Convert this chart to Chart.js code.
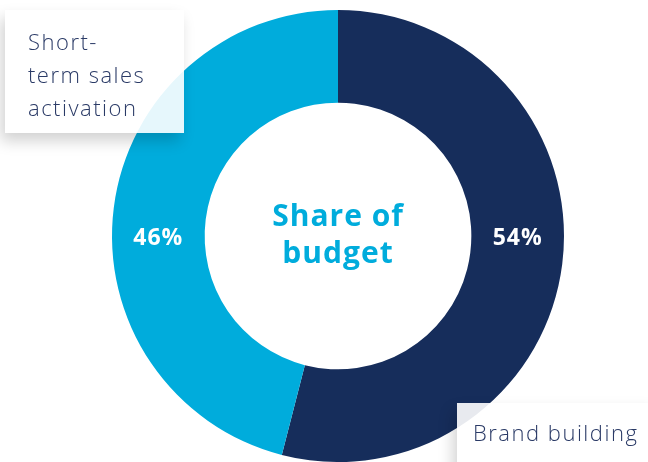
<!DOCTYPE html>
<html>
<head>
<meta charset="utf-8">
<script src="https://cdn.jsdelivr.net/npm/chart.js@4"></script>
<style>
  html, body { margin: 0; padding: 0; background: #fff; }
  #wrap { position: relative; width: 648px; height: 462px; overflow: hidden; }
  canvas { position: absolute; left: 0; top: 0; }
  .box {
    position: absolute;
    background: rgba(255,255,255,0.9);
    box-shadow: -4px 8px 14px rgba(0,0,0,0.18);
    color: #2a3a66;
    font-family: "Open Sans", "Noto Sans", sans-serif;
    font-weight: 300;
    font-size: 22px;
    letter-spacing: 1.5px;
    line-height: 33px;
    white-space: nowrap;
  }
  #b1 { left: 5px; top: 10px; width: 179px; height: 123px; padding-left: 23px; padding-top: 15px; box-sizing: border-box; }
  #b2 { left: 457px; top: 403px; width: 200px; height: 70px; padding-left: 16px; padding-top: 13px; box-sizing: border-box; }
</style>
</head>
<body>
<div id="wrap">
  <canvas id="c" width="648" height="462"></canvas>
  <div class="box" id="b1">Short-<br>term sales<br>activation</div>
  <div class="box" id="b2">Brand building</div>
</div>
<script>
var categories = ['Brand building', 'Short-term sales activation'];
var shares = [54, 46];
var colors = ['#162d5b', '#00acdc'];
var centerLines = ['Share of', 'budget'];

var labelPlugin = {
  id: 'labels',
  afterDatasetsDraw: function(chart) {
    var ctx = chart.ctx;
    var arcs = chart.getDatasetMeta(0).data;
    ctx.save();
    ctx.textAlign = 'center';
    ctx.textBaseline = 'middle';
    ctx.letterSpacing = '1px';
    arcs.forEach(function(arc, i) {
      var mid = (arc.innerRadius + arc.outerRadius) / 2;
      var a = (arc.startAngle + arc.endAngle) / 2;
      var dir = Math.cos(a) >= 0 ? 1 : -1;
      ctx.fillStyle = '#ffffff';
      ctx.font = 'bold 23px "Open Sans", "Noto Sans", sans-serif';
      ctx.fillText(shares[i] + '%', arc.x + dir * mid, arc.y + 2);
    });
    var c = arcs[0];
    ctx.fillStyle = '#00acdc';
    ctx.font = 'bold 30px "Open Sans", "Noto Sans", sans-serif';
    ctx.fillText(centerLines[0], c.x, c.y - 19);
    ctx.fillText(centerLines[1], c.x, c.y + 18);
    ctx.restore();
  }
};

new Chart(document.getElementById('c'), {
  type: 'doughnut',
  data: {
    labels: categories,
    datasets: [{
      data: shares,
      backgroundColor: colors,
      borderWidth: 0
    }]
  },
  options: {
    responsive: false,
    animation: false,
    cutout: '59%',
    layout: { padding: { top: 10, left: 28, right: 0, bottom: 0 } },
    plugins: { legend: { display: false }, tooltip: { enabled: false } }
  },
  plugins: [labelPlugin]
});
</script>
</body>
</html>
